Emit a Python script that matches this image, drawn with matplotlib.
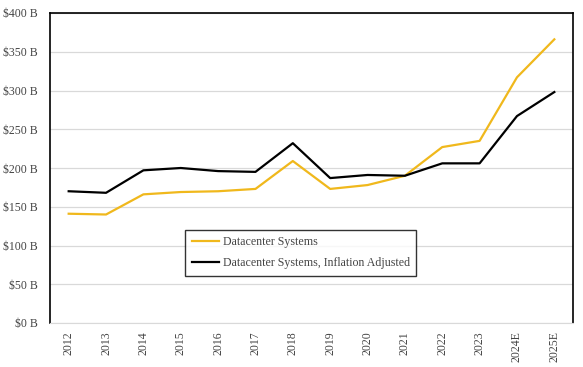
import matplotlib.pyplot as plt
import numpy as np

years = ['2012', '2013', '2014', '2015', '2016', '2017', '2018', '2019',
         '2020', '2021', '2022', '2023', '2024E', '2025E']
systems = [141, 140, 166, 169, 170, 173, 209, 173, 178, 190, 227, 235, 317, 366]
systems_adj = [170, 168, 197, 200, 196, 195, 232, 187, 191, 190, 206, 206, 267, 298]

plt.rcParams['font.family'] = ['Liberation Serif', 'DejaVu Serif']

fig = plt.figure(figsize=(5.83, 3.67), dpi=100)
ax = fig.add_axes([50/583, 1 - 323/367, 523/583, 310/367])

x = np.arange(len(years))
ax.plot(x, systems, color='#F0B81C', lw=1.6, label='Datacenter Systems')
ax.plot(x, systems_adj, color='black', lw=1.6, label='Datacenter Systems, Inflation Adjusted')

ax.set_xlim(-0.5, len(years) - 0.5)
ax.set_ylim(0, 400)
ax.set_yticks(np.arange(0, 401, 50))
ax.set_yticklabels(['$%d B' % v for v in range(0, 401, 50)], color='#444444', fontsize=8.5)
ax.set_xticks(x)
ax.set_xticklabels(years, rotation=90, color='#444444', fontsize=8.5)
ax.tick_params(axis='y', length=0, pad=9)
ax.tick_params(axis='x', length=0, pad=6)
ax.grid(axis='y', color='#d9d9d9', lw=0.9)
ax.set_axisbelow(True)
for s in ['top', 'left', 'right']:
    ax.spines[s].set_color('black')
    ax.spines[s].set_linewidth(1.2)
ax.spines['bottom'].set_color('#d9d9d9')

leg = ax.legend(loc='lower left', bbox_to_anchor=(0.258, 0.152), fontsize=8.6,
                frameon=True, fancybox=False, edgecolor='black',
                handlelength=2.3, handletextpad=0.3, labelspacing=0.75,
                borderpad=0.55, borderaxespad=0)
leg.get_frame().set_linewidth(1.0)
for t in leg.get_texts():
    t.set_color('#444444')

fig.savefig('out.png', dpi=100)
